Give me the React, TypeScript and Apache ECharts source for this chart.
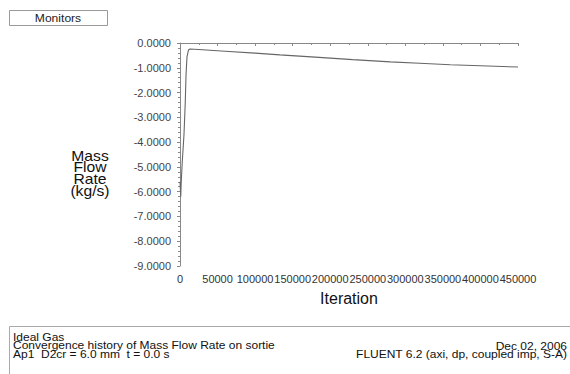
import React, { useEffect, useRef } from "react";
import * as echarts from "echarts";

const iterations = [0, 1000, 1500, 3000, 5300, 7000, 8000, 9300, 11300, 13300, 30000, 60000, 100000, 133000, 180000, 230000, 280000, 319000, 360000, 400000, 450000];
const massFlow = [-5.6, -6.2, -5.7, -4.8, -3.7, -2.4, -1.3, -0.56, -0.28, -0.24, -0.27, -0.33, -0.41, -0.48, -0.57, -0.67, -0.76, -0.82, -0.88, -0.92, -0.97];
const yTitleLines = ["Mass", "Flow", "Rate", "(kg/s)"];
const footerLeft = ["Ideal Gas", "Convergence history of Mass Flow Rate on sortie", "Ap1  D2cr = 6.0 mm  t = 0.0 s"];
const footerRight = ["Dec 02, 2006", "FLUENT 6.2 (axi, dp, coupled imp, S-A)"];

const FONT = "'Liberation Sans', Arial, sans-serif";

export default function App() {
  const ref = useRef<HTMLDivElement>(null);
  useEffect(() => {
    if (!ref.current) return;
    const chart = echarts.init(ref.current, undefined, { renderer: "svg" });
    const data = iterations.map((x, i) => [x, massFlow[i]]);
    const graphics: any[] = [
      { type: "rect", shape: { x: 9.5, y: 10.5, width: 98, height: 15 }, style: { fill: "#fff", stroke: "#999", lineWidth: 1 } },
      { type: "text", x: 58, y: 18, scaleX: 1.1, style: { text: "Monitors", fontSize: 11, fontFamily: FONT, fill: "#222", textAlign: "center", textVerticalAlign: "middle" } },
      { type: "rect", shape: { x: 9.5, y: 326.5, width: 600, height: 60 }, style: { fill: "#fff", stroke: "#aaa", lineWidth: 1 } },
    ];
    yTitleLines.forEach((t, i) => {
      graphics.push({ type: "text", x: 90, y: 156 + i * 11.7, scaleX: 1.12, style: { text: t, fontSize: 14, fontFamily: FONT, fill: "#111", textAlign: "center", textVerticalAlign: "middle" } });
    });
    footerLeft.forEach((t, i) => {
      graphics.push({ type: "text", x: 13, y: 337 + i * 8.8, scaleX: 1.2, style: { text: t, fontSize: 10, fontFamily: FONT, fill: "#111", textAlign: "left", textVerticalAlign: "middle" } });
    });
    footerRight.forEach((t, i) => {
      graphics.push({ type: "text", x: 567, y: 346 + i * 8.8, scaleX: 1.2, style: { text: t, fontSize: 10, fontFamily: FONT, fill: "#111", textAlign: "right", textVerticalAlign: "middle" } });
    });
    chart.setOption({
      animation: false,
      backgroundColor: "#fff",
      grid: { left: 180, right: 52, top: 43, bottom: 108, containLabel: false },
      xAxis: {
        type: "value",
        min: 0,
        max: 450000,
        interval: 50000,
        name: "Iteration",
        nameLocation: "middle",
        nameGap: 24,
        nameTextStyle: { fontSize: 16, fontFamily: FONT, color: "#111" },
        axisLine: { lineStyle: { color: "#888" } },
        axisTick: { length: 3, lineStyle: { color: "#888" } },
        minorTick: { show: true, splitNumber: 2, length: 2, lineStyle: { color: "#888" } },
        splitLine: { show: false },
        axisLabel: {
          fontSize: 11,
          fontFamily: FONT,
          color: "#333",
          margin: 7,
          hideOverlap: false,
          showMaxLabel: true,
          showMinLabel: true,
          formatter: (v: number) => String(v),
        },
      },
      yAxis: {
        type: "value",
        min: -9,
        max: 0,
        interval: 1,
        axisLine: { show: true, lineStyle: { color: "#888" } },
        axisTick: { show: true, length: 3, lineStyle: { color: "#888" } },
        minorTick: { show: true, splitNumber: 5, length: 2, lineStyle: { color: "#888" } },
        splitLine: { show: false },
        axisLabel: { fontSize: 11, fontFamily: FONT, color: "#444", margin: 9, formatter: (v: number) => v.toFixed(4) },
      },
      graphic: graphics,
      series: [
        {
          type: "line",
          data,
          showSymbol: false,
          lineStyle: { color: "#666", width: 1.1 },
        },
      ],
    });
    return () => chart.dispose();
  }, []);
  return <div ref={ref} style={{ width: 570, height: 374, position: "absolute", left: 0, top: 0 }} />;
}
